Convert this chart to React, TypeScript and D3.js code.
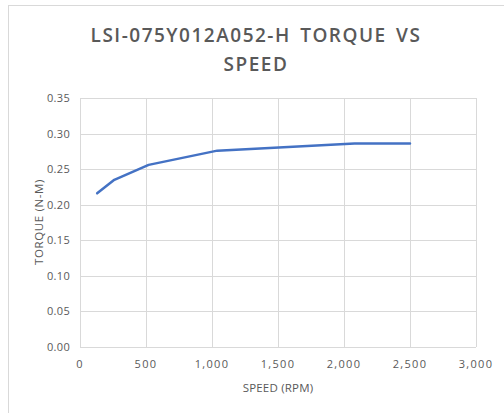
import React, { useRef, useEffect } from "react";
import * as d3 from "d3";

const speed = [130, 260, 520, 1040, 2080, 2500];
const torque = [0.216, 0.235, 0.256, 0.276, 0.286, 0.286];
const xTicks = [0, 500, 1000, 1500, 2000, 2500, 3000];
const yTicks = [0, 0.05, 0.1, 0.15, 0.2, 0.25, 0.3, 0.35];
const titleLines = ["LSI-075Y012A052-H TORQUE VS", "SPEED"];

const W = 504;
const H = 413;
const FONT = "'Open Sans', sans-serif";

const App = () => {
  const svgRef = useRef<SVGSVGElement>(null);

  useEffect(() => {
    const svg = d3.select(svgRef.current);
    svg.selectAll("*").remove();

    const margin = { top: 98, left: 80, right: 28, bottom: 66 };
    const x = d3.scaleLinear().domain([0, 3000]).range([margin.left, W - margin.right]);
    const y = d3.scaleLinear().domain([0, 0.35]).range([H - margin.bottom, margin.top]);

    svg.append("rect").attr("width", W).attr("height", H).attr("fill", "#fff");

    // chart frame
    svg.append("line").attr("x1", 8.5).attr("x2", 8.5).attr("y1", 5).attr("y2", H)
      .attr("stroke", "#d9d9d9");
    svg.append("line").attr("x1", 8).attr("x2", W).attr("y1", 5.5).attr("y2", 5.5)
      .attr("stroke", "#d9d9d9");

    // title
    svg.append("text")
      .attr("x", 256)
      .attr("text-anchor", "middle")
      .attr("font-family", FONT)
      .attr("font-weight", 600)
      .attr("font-size", 19)
      .attr("letter-spacing", 1.5)
      .attr("word-spacing", 3)
      .attr("fill", "#595959")
      .selectAll("tspan")
      .data(titleLines)
      .join("tspan")
      .attr("x", 256)
      .attr("y", (d, i) => 42 + i * 29)
      .text((d) => d);

    // grid
    const grid = svg.append("g").attr("stroke", "#d9d9d9").attr("stroke-width", 1);
    grid.selectAll(".h").data(yTicks).join("line")
      .attr("x1", x(0)).attr("x2", x(3000))
      .attr("y1", (d) => Math.round(y(d)) + 0.5).attr("y2", (d) => Math.round(y(d)) + 0.5);
    grid.selectAll(".v").data(xTicks).join("line")
      .attr("x1", (d) => Math.round(x(d)) + 0.5).attr("x2", (d) => Math.round(x(d)) + 0.5)
      .attr("y1", y(0.35)).attr("y2", y(0));

    // tick labels
    svg.append("g").selectAll("text").data(yTicks).join("text")
      .attr("x", x(0) - 10)
      .attr("y", (d) => y(d) + 4)
      .attr("text-anchor", "end")
      .attr("font-family", FONT)
      .attr("font-size", 11)
      .attr("letter-spacing", 0.3)
      .attr("fill", "#595959")
      .text((d) => d3.format(".2f")(d));

    svg.append("g").selectAll("text").data(xTicks).join("text")
      .attr("x", (d) => x(d))
      .attr("y", y(0) + 21)
      .attr("text-anchor", "middle")
      .attr("font-family", FONT)
      .attr("font-size", 11)
      .attr("letter-spacing", 1.3)
      .attr("fill", "#595959")
      .text((d) => d3.format(",")(d));

    // axis titles
    svg.append("text")
      .attr("x", 278)
      .attr("y", 392)
      .attr("text-anchor", "middle")
      .attr("font-family", FONT)
      .attr("font-size", 11.5)
      .attr("letter-spacing", 0.2)
      .attr("fill", "#595959")
      .text("SPEED (RPM)");

    svg.append("text")
      .attr("transform", `translate(43, 222) rotate(-90)`)
      .attr("text-anchor", "middle")
      .attr("font-family", FONT)
      .attr("font-size", 11.5)
      .attr("letter-spacing", 0.6)
      .attr("fill", "#595959")
      .text("TORQUE (N-M)");

    // line
    const line = d3.line<number>()
      .x((d, i) => x(speed[i]))
      .y((d) => y(d));

    svg.append("path")
      .datum(torque)
      .attr("d", line)
      .attr("fill", "none")
      .attr("stroke", "#4472c4")
      .attr("stroke-width", 2.5)
      .attr("stroke-linejoin", "round")
      .attr("stroke-linecap", "round");
  }, []);

  return (
    <div style={{ position: "absolute", left: 0, top: 0 }}>
      <svg ref={svgRef} width={W} height={H} style={{ display: "block" }} />
    </div>
  );
};

export default App;
